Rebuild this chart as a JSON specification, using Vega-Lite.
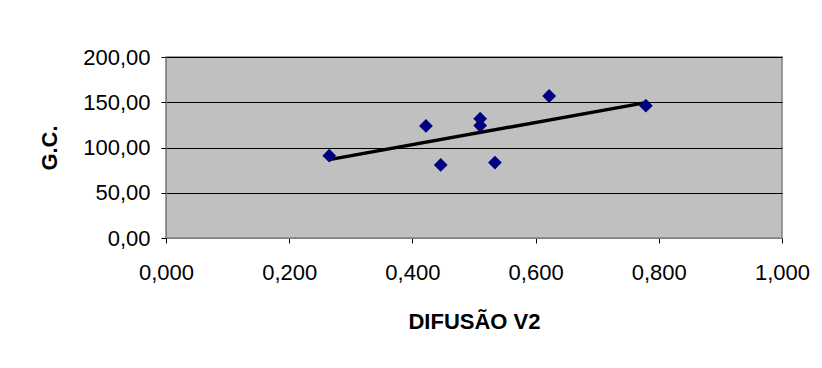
{
  "$schema": "https://vega.github.io/schema/vega-lite/v6.json",
  "width": 616,
  "height": 181,
  "autosize": {"type": "none"},
  "padding": {"left": 166, "top": 57, "right": 40, "bottom": 130},
  "background": "white",
  "config": {
    "font": "Liberation Sans",
    "view": {"fill": "#C0C0C0", "stroke": "#808080", "strokeWidth": 1.5},
    "axis": {
      "labelFont": "Liberation Sans",
      "titleFont": "Liberation Sans",
      "labelFontSize": 22,
      "labelColor": "#000000",
      "titleColor": "#000000",
      "tickColor": "#000000",
      "domainColor": "#808080",
      "tickSize": 5
    }
  },
  "datasets": {
    "points": [
      {"difusao": 0.265, "gc": 91.0},
      {"difusao": 0.422, "gc": 123.8},
      {"difusao": 0.446, "gc": 80.8},
      {"difusao": 0.510, "gc": 131.9},
      {"difusao": 0.510, "gc": 124.2},
      {"difusao": 0.534, "gc": 83.3},
      {"difusao": 0.622, "gc": 156.9},
      {"difusao": 0.779, "gc": 146.2}
    ],
    "trend": [
      {"difusao": 0.265, "gc": 86.6},
      {"difusao": 0.779, "gc": 149.6}
    ]
  },
  "layer": [
    {
      "data": {"name": "trend"},
      "mark": {"type": "line", "color": "#000000", "strokeWidth": 3.5},
      "encoding": {
        "x": {
          "field": "difusao", "type": "quantitative",
          "scale": {"domain": [0, 1], "nice": false, "zero": true},
          "axis": {
            "title": "DIFUSÃO V2",
            "titleFontSize": 22, "titleFontWeight": "bold",
            "titlePadding": 28,
            "values": [0, 0.2, 0.4, 0.6, 0.8, 1.0],
            "labelExpr": "replace(format(datum.value, '.3f'), '.', ',')",
            "labelPadding": 19,
            "grid": false,
            "labelFlush": false
          }
        },
        "y": {
          "field": "gc", "type": "quantitative",
          "scale": {"domain": [0, 200], "nice": false},
          "axis": {
            "title": "G.C.",
            "titleFontSize": 22, "titleFontWeight": "bold",
            "titlePadding": 21,
            "values": [0, 50, 100, 150, 200],
            "labelExpr": "replace(format(datum.value, '.2f'), '.', ',')",
            "labelPadding": 11,
            "grid": true, "gridColor": "#000000", "gridWidth": 1, "gridOpacity": 1,
            "labelFlush": false
          }
        }
      }
    },
    {
      "data": {"name": "points"},
      "mark": {"type": "point", "shape": "diamond", "filled": true, "color": "#000080", "size": 190, "opacity": 1},
      "encoding": {
        "x": {"field": "difusao", "type": "quantitative"},
        "y": {"field": "gc", "type": "quantitative"}
      }
    }
  ]
}
